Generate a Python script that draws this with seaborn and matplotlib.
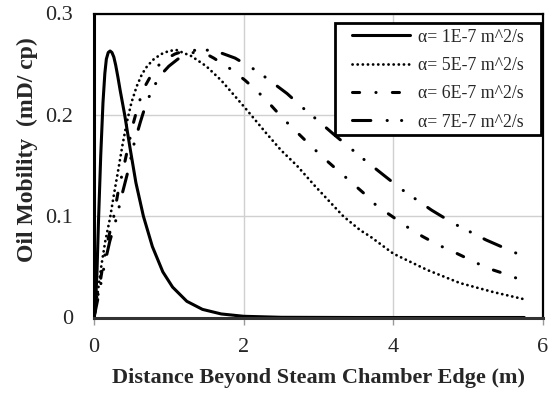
import numpy as np
import pandas as pd
import matplotlib
matplotlib.use("Agg")
import matplotlib.pyplot as plt
import matplotlib.patches as mpatches
import seaborn as sns

# ---- data ----
labels = ["α= 1E-7 m^2/s", "α= 5E-7 m^2/s", "α= 6E-7 m^2/s", "α= 7E-7 m^2/s"]

x1 = [0, 0.02, 0.04, 0.06, 0.09, 0.12, 0.145, 0.165, 0.19, 0.215, 0.24, 0.265, 0.29, 0.32,
      0.35, 0.41, 0.48, 0.56, 0.66, 0.78, 0.92, 1.05, 1.24, 1.45, 1.70, 2.0, 2.5, 3.5, 5.75]
y1 = [0, 0.012, 0.045, 0.095, 0.160, 0.212, 0.241, 0.255, 0.2615, 0.263, 0.2615, 0.257, 0.249, 0.237,
      0.224, 0.200, 0.168, 0.133, 0.100, 0.070, 0.045, 0.030, 0.016, 0.008, 0.0035, 0.0012, 0.0002, 0.0, 0.0]

x5 = [0, 0.05, 0.10, 0.15, 0.214, 0.27, 0.325, 0.38, 0.44, 0.50, 0.57, 0.64, 0.71, 0.80,
      0.90, 1.0, 1.1, 1.3, 1.5, 1.7, 1.9, 2.04, 2.3, 2.5, 2.71, 2.95, 3.33, 3.56, 3.69,
      4.0, 4.45, 4.89, 5.34, 5.75]
y5 = [0, 0.025, 0.052, 0.075, 0.098, 0.123, 0.146, 0.170, 0.193, 0.212, 0.228, 0.240, 0.248, 0.255,
      0.260, 0.263, 0.264, 0.258, 0.248, 0.234, 0.217, 0.205, 0.182, 0.165, 0.150, 0.130, 0.100, 0.086, 0.080,
      0.063, 0.047, 0.034, 0.025, 0.018]

x6 = [0, 0.06, 0.12, 0.18, 0.26, 0.32, 0.39, 0.46, 0.53, 0.60, 0.68, 0.77, 0.85, 0.96,
      1.08, 1.2, 1.32, 1.45, 1.6, 1.83, 2.02, 2.2, 2.37, 2.53, 2.71, 2.89, 3.06, 3.6, 3.78,
      3.98, 4.18, 4.39, 4.6, 4.81, 5.03, 5.25, 5.47, 5.75]
y6 = [0, 0.025, 0.052, 0.075, 0.098, 0.123, 0.146, 0.170, 0.193, 0.212, 0.228, 0.240, 0.248, 0.255,
      0.260, 0.263, 0.264, 0.262, 0.256, 0.245, 0.234, 0.222, 0.209, 0.196, 0.183, 0.170, 0.158, 0.123, 0.110,
      0.100, 0.0896, 0.080, 0.0716, 0.0646, 0.0568, 0.0489, 0.0436, 0.036]

x7 = [0, 0.07, 0.14, 0.21, 0.30, 0.38, 0.46, 0.53, 0.62, 0.70, 0.80, 0.90, 1.0, 1.12,
      1.26, 1.4, 1.54, 1.7, 1.885, 2.17, 2.31, 2.58, 2.82, 2.95, 3.2, 3.46, 3.59, 3.85,
      4.11, 4.51, 4.80, 5.24, 5.75]
y7 = [0, 0.025, 0.052, 0.075, 0.098, 0.123, 0.146, 0.170, 0.193, 0.212, 0.228, 0.240, 0.248, 0.255,
      0.260, 0.263, 0.264, 0.261, 0.256, 0.2436, 0.236, 0.221, 0.205, 0.197, 0.181, 0.165, 0.157, 0.1417,
      0.1265, 0.106, 0.093, 0.0765, 0.060]

x_ticks = [0, 2, 4, 6]
y_ticks = [0, 0.1, 0.2, 0.3]
y_tick_labels = ["0", "0.1", "0.2", "0.3"]
x_label = "Distance Beyond Steam Chamber Edge (m)"
y_label = "Oil Mobility  (mD/ cp)"

# ---- style ----
sns.set_theme(style="white")
plt.rcParams["font.family"] = ["Liberation Serif", "DejaVu Serif"]

fig = plt.figure(figsize=(5.55, 3.97), dpi=100)
ax = fig.add_axes([94 / 555, 1 - 317.5 / 397, 449 / 555, 304 / 397])

series = [(x1, y1), (x5, y5), (x6, y6), (x7, y7)]
styles = [
    dict(linestyle="-", lw=2.2),
    dict(linestyle=(0, (0.05, 1.8)), lw=2.0),
    dict(linestyle=(0, (2.33, 5.33, 0.05, 5.33)), lw=2.2),
    dict(linestyle=(0, (6.0, 5.33, 0.05, 4.67, 0.05, 5.0)), lw=2.2),
]
for (xs, ys), lab, st in zip(series, labels, styles):
    df = pd.DataFrame({"x": xs, "y": ys})
    sns.lineplot(data=df, x="x", y="y", ax=ax, color="black", label=lab,
                 sort=False, estimator=None, dash_capstyle="round",
                 solid_capstyle="round", **st)

ax.set_xlim(0, 6)
ax.set_ylim(0, 0.3)
ax.set_xticks(x_ticks)
ax.set_xticklabels([str(t) for t in x_ticks])
ax.set_yticks(y_ticks)
ax.set_yticklabels(y_tick_labels)
ax.grid(True, color="#d0d0d0", lw=1)
ax.set_axisbelow(True)
for s in ax.spines.values():
    s.set_color("black")
    s.set_linewidth(1.6)
ax.spines["bottom"].set_color("#333333")
ax.spines["bottom"].set_linewidth(2.2)
ax.spines["left"].set_linewidth(2.2)

ax.tick_params(axis="x", length=5, width=1, color="#999999", pad=10, labelsize=16,
               bottom=True, direction="out")
ax.tick_params(axis="y", length=0, pad=15, labelsize=16, left=True)

ax.set_xlabel(x_label, fontsize=16, fontweight="bold", labelpad=8)
ax.set_ylabel(y_label, fontsize=17, fontweight="bold")
ax.yaxis.set_label_coords((38 - 94) / 449, (317.5 - 150) / 304)

# legend contents (no frame) + a separate square frame like the reference box
leg = ax.legend(loc="upper left", bbox_to_anchor=((352 - 94) / 449, (317.5 - 28.5) / 304),
                borderaxespad=0, borderpad=0, frameon=False, fontsize=12.8,
                handlelength=3.26, handletextpad=0.45, labelspacing=0.64)
frame = mpatches.Rectangle(((335 - 94) / 449, (317.5 - 135) / 304),
                           (541 - 335) / 449, (135 - 23) / 304,
                           transform=ax.transAxes, facecolor="white",
                           edgecolor="black", lw=2, zorder=4.5)
ax.add_patch(frame)
leg.set_zorder(5)

fig.savefig("out.png", dpi=100)
